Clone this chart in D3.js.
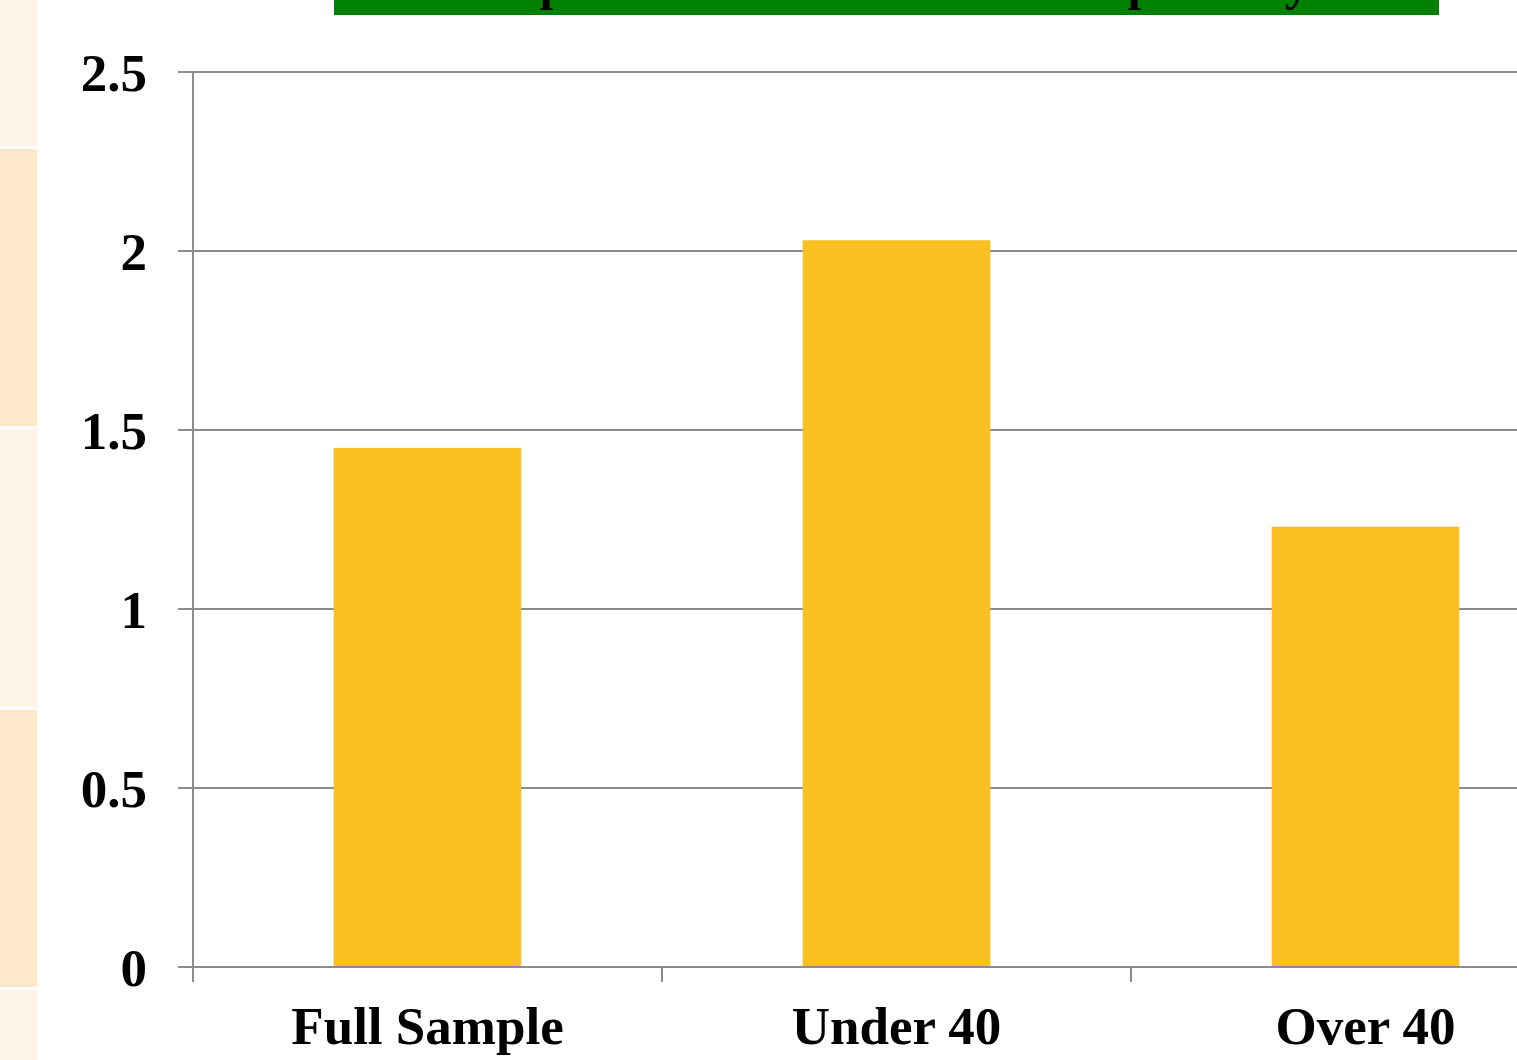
<!DOCTYPE html>
<html>
<head>
<meta charset="utf-8">
<script src="https://cdn.jsdelivr.net/npm/d3@7"></script>
<style>
  html, body { margin: 0; padding: 0; background: #ffffff; overflow: hidden; }
  svg { display: block; }
</style>
</head>
<body>
<script>
// Chart data
const categories = ["Full Sample", "Under 40", "Over 40"];
const values = [1.45, 2.03, 1.23];
const yTicks = [0, 0.5, 1, 1.5, 2, 2.5];
const yTickLabels = ["0", "0.5", "1", "1.5", "2", "2.5"];
const titleText = "Impact of Education on Life Expectancy";

const W = 1517, H = 1060;
const svg = d3.select("body").append("svg").attr("width", W).attr("height", H);

// Decorative slide stripes on the left edge
const stripes = [
  { y0: 0, y1: 146, fill: "#fdf3e6" },
  { y0: 149, y1: 426, fill: "#fde8cb" },
  { y0: 429, y1: 707, fill: "#fdf3e6" },
  { y0: 710, y1: 987, fill: "#fde8cb" },
  { y0: 990, y1: 1060, fill: "#fdf3e6" }
];
svg.append("g").selectAll("rect").data(stripes).join("rect")
  .attr("x", 0).attr("width", 37)
  .attr("y", d => d.y0).attr("height", d => d.y1 - d.y0)
  .attr("fill", d => d.fill);

// Title banner (the slide title runs off the top edge)
svg.append("rect").attr("x", 334).attr("y", 0).attr("width", 1105).attr("height", 15).attr("fill", "#008000");
svg.append("text")
  .attr("x", 895).attr("y", 0)
  .attr("text-anchor", "middle")
  .attr("font-family", "'Liberation Serif', 'Times New Roman', serif")
  .attr("font-weight", "bold").attr("font-size", 48)
  .attr("fill", "#000")
  .text(titleText);

// Scales
const plotLeft = 193, plotRight = 1600, plotTop = 72, plotBottom = 967;
const x = d3.scaleBand().domain(categories).range([plotLeft, plotRight]).paddingInner(0.6).paddingOuter(0.3);
const xOuter = d3.scaleBand().domain(categories).range([plotLeft, plotRight]).padding(0);
const y = d3.scaleLinear().domain([0, 2.5]).range([plotBottom, plotTop]);

const gridColor = "#8c8c8c";
const fontFam = "'Liberation Serif', 'Times New Roman', serif";

// Horizontal gridlines with left tick stubs
svg.append("g").selectAll("line").data(yTicks).join("line")
  .attr("x1", plotLeft - 15).attr("x2", W)
  .attr("y1", d => y(d)).attr("y2", d => y(d))
  .attr("stroke", gridColor).attr("stroke-width", 2);

// Bars
svg.append("g").selectAll("rect").data(categories).join("rect")
  .attr("x", d => x(d))
  .attr("width", x.bandwidth())
  .attr("y", (d, i) => y(values[i]))
  .attr("height", (d, i) => y(0) - y(values[i]))
  .attr("fill", "#fac021");

// Y axis line
svg.append("line")
  .attr("x1", plotLeft).attr("x2", plotLeft)
  .attr("y1", plotTop).attr("y2", plotBottom + 15)
  .attr("stroke", gridColor).attr("stroke-width", 2);

// X axis line drawn over bar bases
svg.append("line")
  .attr("x1", plotLeft - 15).attr("x2", W)
  .attr("y1", y(0)).attr("y2", y(0))
  .attr("stroke", gridColor).attr("stroke-width", 2);

// Category boundary ticks
const boundaries = categories.slice(1).map(c => xOuter(c));
svg.append("g").selectAll("line").data(boundaries).join("line")
  .attr("x1", d => d).attr("x2", d => d)
  .attr("y1", plotBottom).attr("y2", plotBottom + 15)
  .attr("stroke", gridColor).attr("stroke-width", 2);

// Y tick labels
svg.append("g").selectAll("text").data(yTicks).join("text")
  .attr("x", 147).attr("y", d => y(d))
  .attr("dy", "0.36em")
  .attr("text-anchor", "end")
  .attr("font-family", fontFam).attr("font-weight", "bold").attr("font-size", 53)
  .attr("fill", "#000")
  .text((d, i) => yTickLabels[i]);

// X category labels
svg.append("g").selectAll("text").data(categories).join("text")
  .attr("x", d => x(d) + x.bandwidth() / 2)
  .attr("y", 1044)
  .attr("text-anchor", "middle")
  .attr("font-family", fontFam).attr("font-weight", "bold").attr("font-size", 53)
  .attr("fill", "#000")
  .text(d => d);
</script>
</body>
</html>
